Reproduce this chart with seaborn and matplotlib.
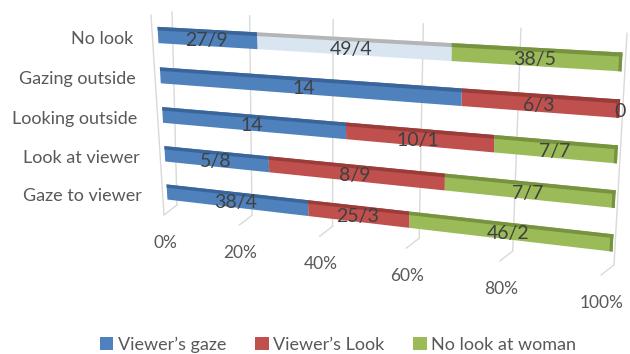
import numpy as np
import pandas as pd
import matplotlib
matplotlib.use("Agg")
import matplotlib.pyplot as plt
import seaborn as sns
from matplotlib import transforms as mtransforms
from matplotlib.lines import Line2D
from matplotlib.patches import Rectangle, Patch

# ---------------- data ----------------
categories = ["No look", "Gazing outside", "Looking outside", "Look at viewer", "Gaze to viewer"]
series = ["Viewer\u2019s gaze", "Viewer\u2019s Look", "No look at woman"]
viewers_gaze = [27.9, 14, 14, 5.8, 38.4]
viewers_look = [49.4, 6.3, 10.1, 8.9, 25.3]
no_look_at_woman = [38.5, 0, 7.7, 7.7, 46.2]
tick_values = [0.0, 0.2, 0.4, 0.6, 0.8, 1.0]
tick_labels = ["0%", "20%", "40%", "60%", "80%", "100%"]

colors = ["#4F81BD", "#C0504D", "#9BBB59"]
top_colors = ["#3A659B", "#9A3C39", "#77933F"]
highlight_color = "#DAE5F2"

sns.set_theme(style="white")
plt.rcParams["font.family"] = ["Lato", "DejaVu Sans"]

W, H = 630, 354
fig = plt.figure(figsize=(W / 100, H / 100), dpi=100)
ax = fig.add_axes([0, 0, 1, 1])


def homography(src, dst_img):
    A, b = [], []
    for (x, y), (X, Yi) in zip(src, dst_img):
        Y = H - Yi
        A.append([x, y, 1, 0, 0, 0, -X * x, -X * y]); b.append(X)
        A.append([0, 0, 0, x, y, 1, -Y * x, -Y * y]); b.append(Y)
    h = np.linalg.solve(np.array(A, float), np.array(b, float))
    return np.append(h, 1.0).reshape(3, 3)


class Projective(mtransforms.Transform):
    input_dims = 2
    output_dims = 2
    is_separable = False
    has_inverse = False

    def __init__(self, M):
        super().__init__()
        self.M = np.asarray(M, float)

    def transform_non_affine(self, values):
        v = np.asarray(values, float).reshape(-1, 2)
        p = np.column_stack([v, np.ones(len(v))]) @ self.M.T
        return p[:, :2] / p[:, 2:3]


# perspective planes (bar plane: x = share, y = category index)
bar_P = Projective(homography([(0, 0), (1, 0), (0, 4), (1, 4)],
                              [(158, 35), (622, 62), (167, 192), (613, 243)]))
wall_P = Projective(homography([(0, 0), (1, 0), (0, 1), (1, 1)],
                               [(172, 12), (627, 33), (177, 205), (614, 265)]))

# ---------------- grid (back wall + floor) ----------------
grid_c = "#D9D9D9"
for u in tick_values:
    ax.plot([u, u], [0, 1], transform=wall_P, color=grid_c, lw=1.0, zorder=0, clip_on=False)
    bx, by = wall_P.transform([[u, 1]])[0]
    ax.add_line(Line2D([bx, bx - 13], [by, by - 10], transform=mtransforms.IdentityTransform(),
                       color=grid_c, lw=1.0, zorder=0))
tx, ty = wall_P.transform([[0, 0]])[0]
bx, by = wall_P.transform([[0, 1]])[0]
ax.add_line(Line2D([tx - 21, bx - 13], [ty - 3, by - 10], transform=mtransforms.IdentityTransform(),
                   color=grid_c, lw=1.0, zorder=0))

# ---------------- stacked 100% bars ----------------
df = pd.DataFrame({"category": categories, "gaze": viewers_gaze,
                   "look": viewers_look, "nolook": no_look_at_woman})
cols = ["gaze", "look", "nolook"]
fracs = df[cols].div(df[cols].sum(axis=1), axis=0)
cums = fracs.cumsum(axis=1)
starts = cums - fracs

layers = [None, None, None]
for k in reversed(range(3)):
    n0 = len(ax.patches)
    sns.barplot(x=cums[cols[k]], y=df["category"], orient="h", color=colors[k],
                width=0.4, saturation=1, linewidth=0, ax=ax)
    layers[k] = list(ax.patches[n0:])

for k in range(3):
    for i, p in enumerate(layers[k]):
        p.set_x(starts[cols[k]].iloc[i])
        p.set_width(fracs[cols[k]].iloc[i])
        p.set_transform(bar_P)
        p.set_clip_on(False)
        p.set_zorder(2)
        tc = top_colors[k]
        if k == 1 and i == 0:
            p.set_facecolor(highlight_color)
            tc = "#B5B5B5"
        strip = Rectangle((p.get_x(), p.get_y()), p.get_width(), p.get_height() * 0.22,
                          facecolor=tc, lw=0, transform=bar_P, clip_on=False, zorder=3)
        ax.add_patch(strip)

# darker right end face on the last visible segment
for i in range(len(categories)):
    k_last = max(k for k in range(3) if fracs[cols[k]].iloc[i] > 0)
    p = layers[k_last][i]
    end = Rectangle((1 - 0.006, p.get_y()), 0.006, p.get_height(), facecolor=top_colors[k_last],
                    lw=0, transform=bar_P, clip_on=False, zorder=3)
    ax.add_patch(end)

# ---------------- text ----------------
label_c = "#404040"
axis_c = "#595959"
for k in range(3):
    vals = df[cols[k]]
    for i in range(len(categories)):
        u = starts[cols[k]].iloc[i] + fracs[cols[k]].iloc[i] / 2
        txt = f"{vals.iloc[i]:g}".replace(".", "/")
        ax.text(u, i, txt, transform=bar_P + mtransforms.Affine2D().translate(0, -3),
                ha="center", va="center", fontsize=14, color=label_c, zorder=5)

for i, cat in enumerate(categories):
    ax.text(0, i, cat, transform=bar_P + mtransforms.Affine2D().translate(-25, -4),
            ha="right", va="center", fontsize=13, color=axis_c)

for u, lab in zip(tick_values, tick_labels):
    ax.text(u, 1, lab, transform=wall_P + mtransforms.Affine2D().translate(-12, -38),
            ha="center", va="center", fontsize=12.5, color=axis_c)

handles = [Patch(facecolor=c, edgecolor="none") for c in colors]
ax.legend(handles, series, loc="center", bbox_to_anchor=(338 / W, 9 / H),
          bbox_transform=fig.transFigure, ncol=3, frameon=False,
          handlelength=0.75, handleheight=0.75, handletextpad=0.25,
          columnspacing=1.6, fontsize=13, labelcolor=axis_c, borderpad=0)

ax.set_axis_off()
ax.set_xlim(0, 1)
ax.set_ylim(4.5, -0.5)
fig.savefig("out.png", dpi=100)
